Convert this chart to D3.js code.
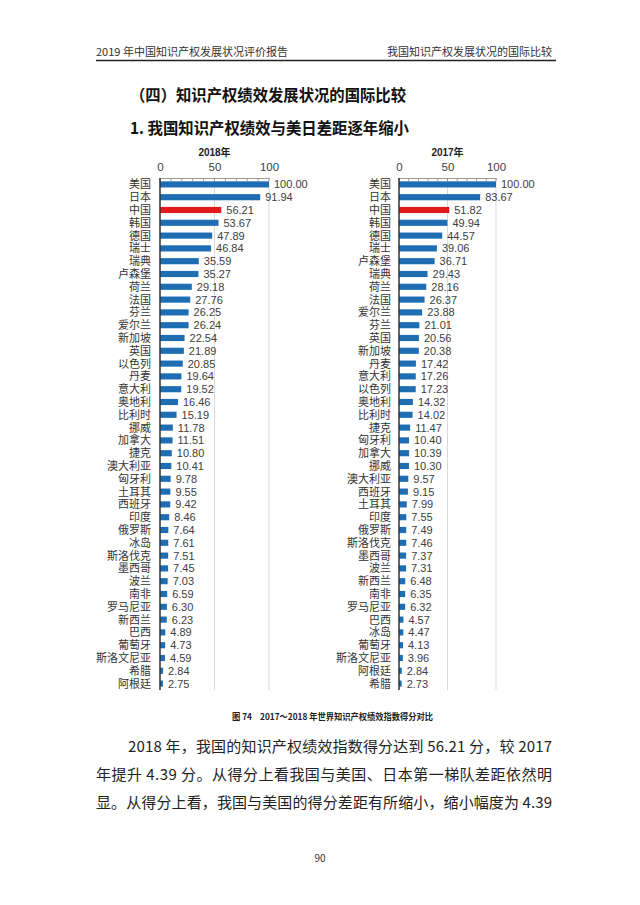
<!DOCTYPE html>
<html><head><meta charset="utf-8">
<script src="https://cdn.jsdelivr.net/npm/d3@7"></script>
<style>
html,body{margin:0;padding:0;background:#fff;}
svg{display:block;}
</style></head>
<body>
<script>
const countries2018 = ["美国","日本","中国","韩国","德国","瑞士","瑞典","卢森堡","荷兰","法国","芬兰","爱尔兰","新加坡","英国","以色列","丹麦","意大利","奥地利","比利时","挪威","加拿大","捷克","澳大利亚","匈牙利","土耳其","西班牙","印度","俄罗斯","冰岛","斯洛伐克","墨西哥","波兰","南非","罗马尼亚","新西兰","巴西","葡萄牙","斯洛文尼亚","希腊","阿根廷"];
const values2018 = [100.00,91.94,56.21,53.67,47.89,46.84,35.59,35.27,29.18,27.76,26.25,26.24,22.54,21.89,20.85,19.64,19.52,16.46,15.19,11.78,11.51,10.80,10.41,9.78,9.55,9.42,8.46,7.64,7.61,7.51,7.45,7.03,6.59,6.30,6.23,4.89,4.73,4.59,2.84,2.75];
const countries2017 = ["美国","日本","中国","韩国","德国","瑞士","卢森堡","瑞典","荷兰","法国","爱尔兰","芬兰","英国","新加坡","丹麦","意大利","以色列","奥地利","比利时","捷克","匈牙利","加拿大","挪威","澳大利亚","西班牙","土耳其","印度","俄罗斯","斯洛伐克","墨西哥","波兰","新西兰","南非","罗马尼亚","巴西","冰岛","葡萄牙","斯洛文尼亚","阿根廷","希腊"];
const values2017 = [100.00,83.67,51.82,49.94,44.57,39.06,36.71,29.43,28.16,26.37,23.88,21.01,20.56,20.38,17.42,17.26,17.23,14.32,14.02,11.47,10.40,10.39,10.30,9.57,9.15,7.99,7.55,7.49,7.46,7.37,7.31,6.48,6.35,6.32,4.57,4.47,4.13,3.96,2.84,2.73];
const axisTicks = [0,50,100];
const chartTitles = ["2018年","2017年"];

const W = 640, H = 905;
const FONT = "'Noto Sans CJK SC','Noto Sans',sans-serif";
const CFONT = "'Liberation Sans','Noto Sans CJK SC',sans-serif";
const svg = d3.select("body").append("svg").attr("width",W).attr("height",H).style("font-family",FONT);

// header
svg.append("text").attr("x",96).attr("y",56).attr("font-size",11).attr("fill","#333").text("2019 年中国知识产权发展状况评价报告");
svg.append("text").attr("x",552).attr("y",56).attr("text-anchor","end").attr("font-size",11).attr("fill","#333").text("我国知识产权发展状况的国际比较");
svg.append("line").attr("x1",96).attr("x2",556).attr("y1",60.5).attr("y2",60.5).attr("stroke","#222").attr("stroke-width",1.5);

svg.append("text").attr("x",130).attr("y",101).attr("font-size",16).attr("font-weight","bold").attr("fill","#111")
  .attr("textLength",276).attr("lengthAdjust","spacingAndGlyphs").text("（四）知识产权绩效发展状况的国际比较");
svg.append("text").attr("x",130).attr("y",134).attr("font-size",16).attr("font-weight","bold").attr("fill","#111")
  .attr("textLength",279).attr("lengthAdjust","spacingAndGlyphs").text("1.  我国知识产权绩效与美日差距逐年缩小");

function drawChart(cats, vals, x0, x1, labelRight, title){
  const top = 178, bottom = 690;
  const x = d3.scaleLinear().domain([0,100]).range([x0,x1]);
  const y = d3.scaleBand().domain(cats).range([top,bottom]).paddingInner(0.52).paddingOuter(0.26);
  const g = svg.append("g").style("font-family",CFONT);
  // gridlines
  g.selectAll(".grid").data([50,100]).join("line")
    .attr("x1",d=>x(d)).attr("x2",d=>x(d)).attr("y1",top).attr("y2",bottom)
    .attr("stroke","#d9d9d9").attr("stroke-width",1);
  // top axis
  const ax = d3.axisTop(x).tickValues(axisTicks).tickSize(0).tickPadding(7).tickFormat(d3.format("d"));
  const axg = g.append("g").attr("transform",`translate(0,${top})`).call(ax);
  axg.select(".domain").attr("stroke","#999");
  axg.selectAll("text").attr("font-size",11.5).attr("fill","#404040").style("font-family",CFONT);
  // minor ticks
  g.selectAll(".mt").data(d3.range(0,101,10)).join("line")
    .attr("x1",d=>x(d)).attr("x2",d=>x(d)).attr("y1",top).attr("y2",top+3)
    .attr("stroke","#888").attr("stroke-width",0.8);
  g.append("text").attr("x",x(50)).attr("y",top-22).attr("text-anchor","middle")
    .attr("font-size",10).attr("font-weight","bold").attr("fill","#222").text(title);
  // bars
  g.selectAll(".bar").data(cats).join("rect")
    .attr("x",x(0)).attr("y",d=>y(d)).attr("height",y.bandwidth())
    .attr("width",(d,i)=>x(vals[i])-x(0))
    .attr("fill",d=>d==="中国"?"#e31a1c":"#1f6db3");
  // values
  g.selectAll(".val").data(cats).join("text")
    .attr("x",(d,i)=>x(vals[i])+5).attr("y",d=>y(d)+y.bandwidth()/2).attr("dy","0.36em")
    .attr("font-size",11).attr("fill","#404040").text((d,i)=>vals[i].toFixed(2));
  // category labels
  g.selectAll(".cat").data(cats).join("text")
    .attr("x",labelRight).attr("y",d=>y(d)+y.bandwidth()/2).attr("dy","0.36em").attr("text-anchor","end")
    .attr("font-size",11).attr("fill","#333").text(d=>d);
  // vertical axis
  g.append("line").attr("x1",x0).attr("x2",x0).attr("y1",top).attr("y2",bottom).attr("stroke","#333").attr("stroke-width",1.5);
}
drawChart(countries2018, values2018, 160, 269, 151, chartTitles[0]);
drawChart(countries2017, values2017, 399, 496, 391, chartTitles[1]);

// caption
svg.append("text").attr("x",232).attr("y",720).attr("font-size",9).attr("fill","#222").attr("font-weight","bold")
  .attr("textLength",201).attr("lengthAdjust","spacingAndGlyphs")
  .text("图 74　2017～2018 年世界知识产权绩效指数得分对比");

// paragraph
const para = [
  {x:128, y:752, w:424, t:"2018 年，我国的知识产权绩效指数得分达到 56.21 分，较 2017"},
  {x:96, y:780, w:456, t:"年提升 4.39 分。从得分上看我国与美国、日本第一梯队差距依然明"},
  {x:96, y:808, w:456, t:"显。从得分上看，我国与美国的得分差距有所缩小，缩小幅度为 4.39"}
];
svg.selectAll(".p").data(para).join("text").attr("x",d=>d.x).attr("y",d=>d.y)
  .attr("font-size",15).attr("fill","#222").attr("textLength",d=>d.w).attr("lengthAdjust","spacing").text(d=>d.t);

svg.append("text").attr("x",320).attr("y",862).attr("text-anchor","middle").attr("font-size",10).attr("fill","#333").text("90");
</script>
</body></html>
